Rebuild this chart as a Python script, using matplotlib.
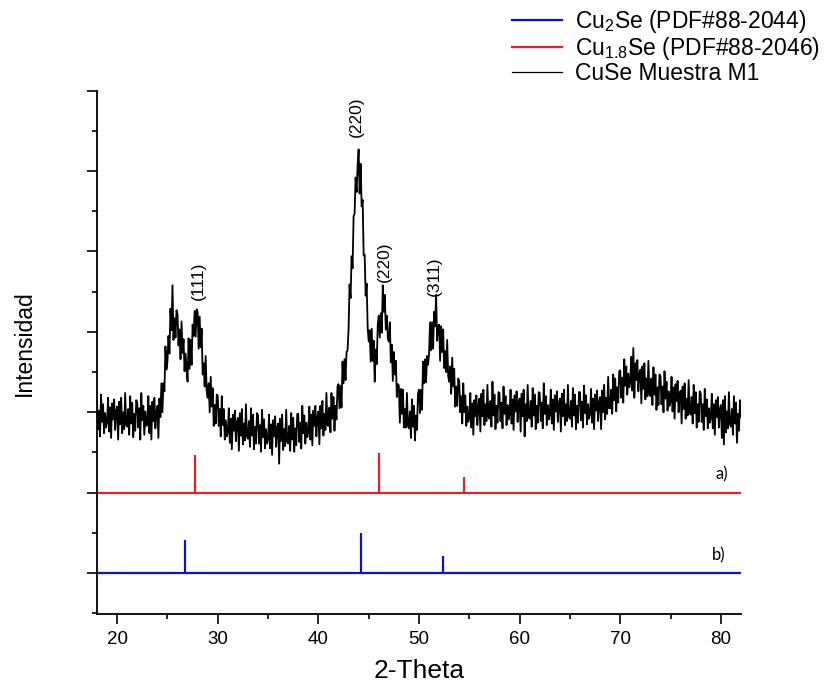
import numpy as np
import matplotlib
matplotlib.use("Agg")
from matplotlib import pyplot as plt
from matplotlib.ticker import MultipleLocator, NullFormatter

plt.rcParams['font.family'] = ['Liberation Sans', 'DejaVu Sans']
plt.rcParams['mathtext.fontset'] = 'custom'
plt.rcParams['mathtext.rm'] = 'Liberation Sans'
plt.rcParams['mathtext.it'] = 'Liberation Sans'

# =====================================================================
# DONNÉES
# =====================================================================

# Diffractogramme de l'échantillon M1 (pas de 0.1° en 2-Theta, de 18 à 82°)
theta_debut = 18.0
theta_pas = 0.1
intensite_m1 = [
    3.14, 2.79, 3.02, 2.70, 3.22, 2.88, 3.10, 2.74, 2.99, 2.81,   # 18
    2.87, 3.18, 2.76, 3.06, 2.68, 3.11, 2.91, 3.16, 2.78, 3.01,   # 19
    3.07, 2.66, 3.13, 2.85, 3.18, 2.74, 3.00, 2.79, 3.24, 2.84,   # 20
    2.82, 3.04, 2.72, 3.20, 2.86, 3.12, 2.69, 2.98, 2.77, 3.15,   # 21
    3.12, 2.81, 3.05, 2.66, 3.24, 2.90, 3.08, 2.72, 3.01, 2.83,   # 22
    2.85, 3.20, 2.74, 3.08, 2.66, 3.13, 2.89, 3.18, 2.80, 3.00,   # 23
    3.08, 2.68, 3.17, 2.94, 3.36, 3.00, 3.36, 3.26, 3.82, 3.53,   # 24
    3.63, 3.95, 3.73, 4.29, 4.02, 4.58, 3.90, 4.17, 3.93, 4.27,   # 25
    4.22, 3.83, 4.03, 3.66, 4.13, 3.74, 3.91, 3.51, 3.73, 3.53,   # 26
    3.38, 3.92, 3.54, 3.90, 3.59, 4.09, 3.95, 4.26, 3.94, 4.28,   # 27
    4.25, 3.79, 4.19, 3.81, 4.04, 3.47, 3.61, 3.32, 3.70, 3.25,   # 28
    3.18, 3.36, 3.00, 3.44, 3.07, 3.30, 2.83, 3.09, 2.86, 3.22,   # 29
    3.20, 2.83, 3.04, 2.70, 3.20, 2.84, 3.04, 2.66, 2.90, 2.70,   # 30
    2.75, 3.05, 2.62, 2.92, 2.54, 2.97, 2.77, 3.02, 2.64, 2.87,   # 31
    2.93, 2.52, 2.99, 2.71, 3.04, 2.60, 2.86, 2.65, 3.10, 2.70,   # 32
    2.67, 2.89, 2.57, 3.05, 2.71, 2.97, 2.54, 2.82, 2.61, 2.99,   # 33
    2.96, 2.61, 2.84, 2.51, 3.03, 2.69, 2.91, 2.55, 2.79, 2.61,   # 34
    2.66, 2.97, 2.55, 2.85, 2.47, 2.90, 2.70, 2.95, 2.57, 2.80,   # 35
    2.86, 2.36, 2.92, 2.64, 2.97, 2.53, 2.79, 2.58, 3.03, 2.63,   # 36
    2.61, 2.83, 2.52, 2.99, 2.66, 2.93, 2.51, 2.80, 2.59, 2.98,   # 37
    2.98, 2.63, 2.87, 2.55, 3.08, 2.74, 2.96, 2.61, 2.87, 2.69,   # 38
    2.76, 3.07, 2.66, 2.97, 2.59, 3.02, 2.83, 3.08, 2.70, 2.94,   # 39
    3.01, 2.60, 3.08, 2.80, 3.14, 2.71, 2.98, 2.78, 3.24, 2.84,   # 40
    2.83, 3.06, 2.75, 3.24, 2.92, 3.19, 2.77, 3.08, 2.91, 3.32,   # 41
    3.35, 3.05, 3.33, 3.06, 3.63, 3.36, 3.66, 3.40, 3.75, 3.77,   # 42
    4.03, 4.59, 4.42, 4.94, 4.79, 5.44, 5.47, 5.92, 5.74, 6.07,   # 43
    6.27, 5.72, 6.09, 5.56, 5.64, 4.95, 4.96, 4.45, 4.60, 4.05,   # 44
    3.88, 4.02, 3.63, 4.04, 3.64, 3.89, 3.38, 3.78, 3.60, 4.09,   # 45
    4.20, 3.93, 4.23, 3.99, 4.58, 4.25, 4.46, 4.03, 4.20, 3.92,   # 46
    3.88, 4.12, 3.62, 3.84, 3.39, 3.75, 3.47, 3.64, 3.19, 3.35,   # 47
    3.33, 2.87, 3.29, 2.98, 3.28, 2.81, 3.04, 2.81, 3.24, 2.83,   # 48
    2.80, 3.01, 2.68, 3.16, 2.82, 3.08, 2.65, 2.96, 2.78, 3.23,   # 49
    3.28, 2.99, 3.28, 3.03, 3.63, 3.36, 3.66, 3.37, 3.70, 3.59,   # 50
    3.73, 4.12, 3.77, 4.12, 3.79, 4.25, 4.07, 4.46, 3.89, 4.07,   # 51
    4.09, 3.64, 4.07, 3.75, 4.03, 3.55, 3.76, 3.50, 3.90, 3.45,   # 52
    3.38, 3.57, 3.23, 3.68, 3.32, 3.54, 3.07, 3.32, 3.08, 3.42,   # 53
    3.38, 3.00, 3.20, 2.86, 3.36, 3.00, 3.21, 2.83, 3.07, 2.88,   # 54
    2.93, 3.24, 2.81, 3.11, 2.72, 3.15, 2.95, 3.21, 2.84, 3.08,   # 55
    3.17, 2.76, 3.23, 2.95, 3.28, 2.84, 3.10, 2.89, 3.34, 2.94,   # 56
    2.92, 3.14, 2.82, 3.38, 2.96, 3.22, 2.79, 3.08, 2.87, 3.25,   # 57
    3.24, 2.89, 3.12, 2.80, 3.32, 2.98, 3.20, 2.84, 3.09, 2.91,   # 58
    2.97, 3.28, 2.86, 3.16, 2.78, 3.21, 3.01, 3.26, 2.88, 3.11,   # 59
    3.17, 2.76, 3.23, 2.95, 3.28, 2.70, 3.10, 2.89, 3.34, 2.94,   # 60
    2.92, 3.14, 2.82, 3.30, 2.96, 3.22, 2.79, 3.08, 2.87, 3.25,   # 61
    3.24, 2.89, 3.12, 2.80, 3.36, 2.98, 3.20, 2.84, 3.09, 2.91,   # 62
    2.97, 3.28, 2.86, 3.16, 2.78, 3.21, 3.01, 3.26, 2.88, 3.11,   # 63
    3.17, 2.76, 3.23, 2.95, 3.28, 2.84, 3.10, 2.89, 3.34, 2.94,   # 64
    2.92, 3.14, 2.82, 3.30, 2.96, 3.22, 2.79, 3.08, 2.87, 3.25,   # 65
    3.25, 2.90, 3.13, 2.81, 3.33, 2.99, 3.21, 2.85, 3.10, 2.92,   # 66
    2.98, 3.29, 2.87, 3.17, 2.79, 3.22, 3.02, 3.27, 2.89, 3.12,   # 67
    3.19, 2.79, 3.27, 3.00, 3.34, 2.91, 3.18, 2.98, 3.44, 3.05,   # 68
    3.05, 3.28, 2.98, 3.47, 3.15, 3.42, 3.01, 3.31, 3.12, 3.51,   # 69
    3.52, 3.18, 3.43, 3.12, 3.66, 3.33, 3.57, 3.22, 3.48, 3.31,   # 70
    3.38, 3.69, 3.27, 3.80, 3.18, 3.61, 3.40, 3.65, 3.26, 3.48,   # 71
    3.53, 3.11, 3.57, 3.29, 3.61, 3.16, 3.42, 3.20, 3.64, 3.23,   # 72
    3.20, 3.42, 3.09, 3.56, 3.22, 3.47, 3.03, 3.31, 3.09, 3.47,   # 73
    3.45, 3.10, 3.32, 3.00, 3.51, 3.17, 3.38, 3.02, 3.26, 3.08,   # 74
    3.13, 3.44, 3.01, 3.31, 2.92, 3.35, 3.14, 3.39, 3.00, 3.22,   # 75
    3.27, 2.86, 3.32, 3.04, 3.36, 2.92, 3.17, 2.96, 3.40, 3.00,   # 76
    2.97, 3.19, 2.86, 3.34, 2.99, 3.25, 2.81, 3.10, 2.88, 3.26,   # 77
    3.23, 2.88, 3.10, 2.78, 3.29, 2.95, 3.16, 2.80, 3.05, 2.87,   # 78
    2.92, 3.23, 2.80, 3.10, 2.72, 3.15, 2.94, 3.19, 2.81, 3.04,   # 79
    3.09, 2.68, 3.15, 2.60, 3.20, 2.75, 3.01, 2.80, 3.25, 2.85,   # 80
    2.82, 3.04, 2.72, 3.20, 2.86, 3.12, 2.62, 2.98, 2.77, 3.15,   # 81
    2.94,                                                         # 82
]

# Fiches de référence (positions 2-Theta et hauteurs relatives)
pos_cu18se = [27.7, 46.0, 54.5]      # PDF#88-2046
haut_cu18se = [0.47, 0.49, 0.19]
base_cu18se = 2.0

pos_cu2se = [26.7, 44.25, 52.4]      # PDF#88-2044
haut_cu2se = [0.41, 0.50, 0.21]
base_cu2se = 1.0

# Indexation des pics
pics_hkl = ["(111)", "(220)", "(220)", "(311)"]
pics_x = [28.1, 43.75, 46.6, 51.5]
pics_y = [4.64, 6.68, 4.87, 4.69]

# =====================================================================
# TRACÉ
# =====================================================================

bleu = "#1010c8"
rouge = "#e4202a"

theta_m1 = theta_debut + theta_pas * np.arange(len(intensite_m1))

fig = plt.figure(figsize=(8.32, 6.85), dpi=100)
ax = fig.add_axes([0.1166, 0.1036, 0.774, 0.764])

ax.plot(theta_m1, intensite_m1, color="black", lw=1.3, label="CuSe Muestra M1", zorder=3)

ax.axhline(base_cu18se, color=rouge, lw=1.6)
ax.vlines(pos_cu18se, base_cu18se, base_cu18se + np.array(haut_cu18se), color=rouge, lw=1.6)
ax.axhline(base_cu2se, color=bleu, lw=1.6)
ax.vlines(pos_cu2se, base_cu2se, base_cu2se + np.array(haut_cu2se), color=bleu, lw=1.6)

for hkl, x, y in zip(pics_hkl, pics_x, pics_y):
    ax.text(x, y, hkl, rotation=90, ha="center", va="center", fontsize=12.5)

ax.text(80.1, base_cu18se + 0.23, "a)", family=["Lato", "DejaVu Sans"], fontsize=12,
        ha="center", va="center")
ax.text(79.8, base_cu2se + 0.22, "b)", family=["Lato", "DejaVu Sans"], fontsize=12,
        ha="center", va="center")

ax.set_xlim(18, 82)
ax.set_ylim(0.49, 7.0)

ax.xaxis.set_major_locator(MultipleLocator(10))
ax.xaxis.set_minor_locator(MultipleLocator(5))
ax.yaxis.set_major_locator(MultipleLocator(1))
ax.yaxis.set_minor_locator(MultipleLocator(0.5))
ax.yaxis.set_major_formatter(NullFormatter())

ax.tick_params(axis="both", which="major", length=7, width=1.2, direction="out")
ax.tick_params(axis="both", which="minor", length=3.6, width=1.2, direction="out")
ax.tick_params(axis="x", labelsize=13.5, pad=5)

for cote in ["top", "right"]:
    ax.spines[cote].set_visible(False)
for cote in ["left", "bottom"]:
    ax.spines[cote].set_linewidth(1.3)

ax.set_xlabel("2-Theta", fontsize=19, labelpad=8)
ax.set_ylabel("Intensidad", fontsize=16.5)
ax.yaxis.set_label_coords(-0.095, 0.518)

# Légende hors du cadre, en haut à droite
poignees = [
    plt.Line2D([], [], color=bleu, lw=1.6),
    plt.Line2D([], [], color=rouge, lw=1.6),
    plt.Line2D([], [], color="black", lw=0.9),
]
etiquettes = [
    r"Cu$_{2}$Se (PDF#88-2044)",
    r"Cu$_{1.8}$Se (PDF#88-2046)",
    "CuSe Muestra M1",
]
fig.legend(poignees, etiquettes, loc="upper left", bbox_to_anchor=(0.596, 1.012),
           frameon=False, fontsize=16.5, handlelength=2.2, handletextpad=0.55,
           labelspacing=0.0, borderpad=0.2)

plt.savefig("out.png", dpi=100)
plt.close()
